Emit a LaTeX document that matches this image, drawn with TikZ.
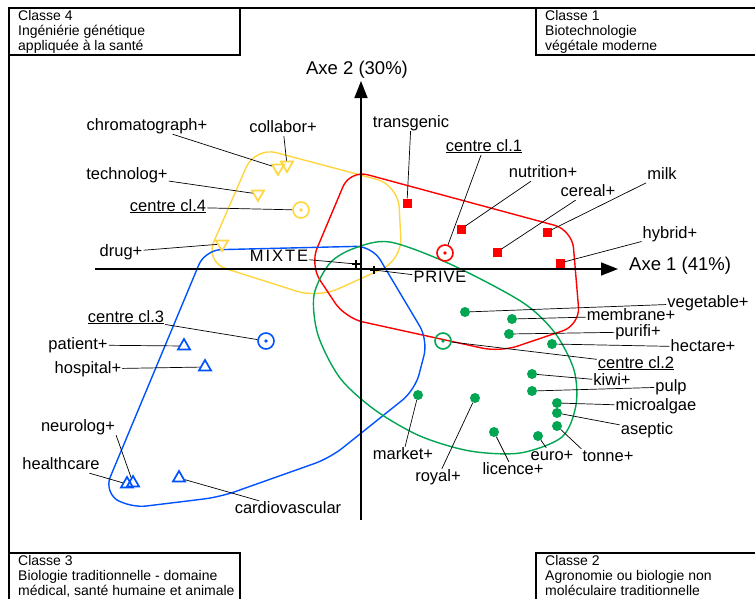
\documentclass[tikz,border=0pt]{standalone}
\usepackage{fontspec}
\setmainfont{Liberation Sans}
\usetikzlibrary{shapes.geometric,arrows.meta}
\definecolor{cyel}{RGB}{255,214,64}
\definecolor{cred}{RGB}{255,0,0}
\definecolor{cgreen}{RGB}{0,166,81}
\definecolor{cblue}{RGB}{0,82,255}
\tikzset{
  lbl/.style={font=\fontsize{16.5}{18}\selectfont, inner sep=1pt, text height=11pt, text depth=3pt},
  axlbl/.style={font=\fontsize{18.5}{20}\selectfont, inner sep=1pt},
  boxtxt/.style={font=\fontsize{14}{15}\selectfont, anchor=north west, align=left, inner sep=2pt},
  boxline/.style={line width=1.6pt},
  axis/.style={line width=1.6pt, -{Triangle[length=17pt,width=13pt]}},
  link/.style={line width=0.7pt},
  hull/.style={line width=1.4pt},
  yeltri/.style={regular polygon, regular polygon sides=3, shape border rotate=180, draw=cyel, line width=1.7pt, inner sep=0pt, minimum size=14pt},
  bluetri/.style={regular polygon, regular polygon sides=3, draw=cblue, line width=1.7pt, inner sep=0pt, minimum size=14pt},
  redsq/.style={rectangle, fill=cred, inner sep=0pt, minimum size=9pt},
  greendot/.style={circle, fill=cgreen, inner sep=0pt, minimum size=10pt},
  centremark/.style={circle, draw=#1, line width=1.6pt, inner sep=0pt, minimum size=16pt,
    path picture={\fill[#1] (path picture bounding box.center) circle (1.8pt);}},
  plusmark/.style={inner sep=0pt, minimum size=8pt,
    path picture={\draw[line width=1.5pt] (path picture bounding box.north) -- (path picture bounding box.south)
      (path picture bounding box.west) -- (path picture bounding box.east);}}
}
\begin{document}
\begin{tikzpicture}[x=1pt,y=-1pt]
        \useasboundingbox (0,0) rectangle (755,598);
        \clip (0,0) rectangle (755,598);

        % Frame
        \draw[boxline] (9,640) -- (9,8) -- (800,8);

        % Class boxes
        \draw[boxline] (9,8) rectangle (240,55);
        \node[boxtxt] (cl4) at (16,8) {Classe 4\\Ingéniérie génétique\\appliquée à la santé};
        \draw[boxline] (536,8) rectangle (800,55);
        \node[boxtxt] (cl1) at (543,8) {Classe 1\\Biotechnologie\\végétale moderne};
        \draw[boxline] (9,553) rectangle (240,640);
        \node[boxtxt] (cl3) at (16,553) {Classe 3\\Biologie traditionnelle - domaine\\médical, santé humaine et animale};
        \draw[boxline] (536,553) rectangle (800,640);
        \node[boxtxt] (cl2) at (543,553) {Classe 2\\Agronomie ou biologie non\\moléculaire traditionnelle};

        % Hulls
        \draw[hull, cyel, rounded corners=22pt] (255,147) -- (398,185) -- (402,260) -- (318,298) -- (205,262) -- cycle;
        \draw[hull, cred, rounded corners=18pt] (350,170) -- (572,230) -- (580,325) -- (500,352) -- (345,318) -- (310,265) -- cycle;
        \draw[hull, cblue, rounded corners=16pt] (205,250) -- (372,246) -- (428,340) -- (415,390) -- (330,458) -- (220,497) -- (130,508) -- (104,492) -- cycle;
        \draw[hull, cgreen] plot[smooth cycle] coordinates {(390,242) (450,264) (522,302) (555,333) (574,370) (576,405) (562,437) (520,453) (470,451) (420,436) (375,410) (340,378) (318,335) (314,295) (330,263) (355,248)};

        % Axes
        \coordinate (xo) at (95,269);
        \coordinate (xe) at (618,269);
        \coordinate (yo) at (361,520);
        \coordinate (ye) at (361,81);
        \draw[axis] (xo) -- (xe);
        \draw[axis] (yo) -- (ye);
        \node[axlbl, anchor=west] (ax1) at (628,266) {Axe 1 (41\%)};
        \node[axlbl] (ax2) at (357,70) {Axe 2 (30\%)};

        % Status points
        \node[plusmark] (pmixte) at (356,264) {};
        \node[plusmark] (pprive) at (374,270) {};
        \node[lbl] (mixte) at (279,257) {\addfontfeature{LetterSpace=12}MIXTE};
        \node[lbl] (prive) at (440,278) {\addfontfeature{LetterSpace=5}PRIVE};
        \draw[link] (mixte) -- (pmixte);
        \draw[link] (prive) -- (pprive);

        % Classe 4 words
        \node[yeltri] (tchrom) at (278,168) {};
        \node[yeltri] (tcoll) at (287,165) {};
        \node[yeltri] (ttech) at (258,194) {};
        \node[yeltri] (tdrug) at (222,244) {};
        \node[centremark=cyel] (c4) at (301,210) {};
        \node[lbl] (chrom) at (147,126) {chromatograph+};
        \node[lbl] (coll) at (283,128) {collabor+};
        \node[lbl] (tech) at (127,175) {technolog+};
        \node[lbl] (lc4) at (168,207) {\underline{centre cl.4}};
        \node[lbl] (drug) at (121,252) {drug+};
        \draw[link] (chrom) -- (tchrom);
        \draw[link] (coll) -- (tcoll);
        \draw[link] (tech) -- (ttech);
        \draw[link] (lc4) -- (c4);
        \draw[link] (drug) -- (tdrug);

        % Classe 1 words
        \node[redsq] (strans) at (407,203) {};
        \node[redsq] (snutr) at (461,229) {};
        \node[redsq] (scer) at (497,252) {};
        \node[redsq] (smilk) at (547,232) {};
        \node[redsq] (shyb) at (560,263) {};
        \node[centremark=cred] (c1) at (445,253) {};
        \node[lbl] (trans) at (411,123) {transgenic};
        \node[lbl] (lc1) at (484,147) {\underline{centre cl.1}};
        \node[lbl] (nutr) at (543,173) {nutrition+};
        \node[lbl] (cer) at (588,192) {cereal+};
        \node[lbl] (milk) at (662,175) {milk};
        \node[lbl] (hyb) at (670,234) {hybrid+};
        \draw[link] (trans) -- (strans);
        \draw[link] (lc1) -- (c1);
        \draw[link] (nutr) -- (snutr);
        \draw[link] (cer) -- (scer);
        \draw[link] (milk) -- (smilk);
        \draw[link] (hyb) -- (shyb);

        % Classe 3 words
        \node[bluetri] (tpat) at (184,346) {};
        \node[bluetri] (thosp) at (205,367) {};
        \node[bluetri] (tneuro) at (133,483) {};
        \node[bluetri] (thealth) at (127,484) {};
        \node[bluetri] (tcardio) at (179,478) {};
        \node[centremark=cblue] (c3) at (266,341) {};
        \node[lbl] (lc3) at (126,318) {\underline{centre cl.3}};
        \node[lbl] (pat) at (78,345) {patient+};
        \node[lbl] (hosp) at (88,369) {hospital+};
        \node[lbl] (neuro) at (78,427) {neurolog+};
        \node[lbl] (health) at (61,465) {healthcare};
        \node[lbl] (cardio) at (288,509) {cardiovascular};
        \draw[link] (lc3) -- (c3);
        \draw[link] (pat) -- (tpat);
        \draw[link] (hosp) -- (thosp);
        \draw[link] (neuro.south east) -- (tneuro);
        \draw[link] (health) -- (thealth);
        \draw[link] (cardio) -- (tcardio);

        % Classe 2 words
        \node[greendot] (dveg) at (465,312) {};
        \node[greendot] (dmem) at (512,319) {};
        \node[greendot] (dpur) at (509,334) {};
        \node[greendot] (dhect) at (552,344) {};
        \node[greendot] (dkiwi) at (532,374) {};
        \node[greendot] (dpulp) at (532,391) {};
        \node[greendot] (dmicro) at (557,403) {};
        \node[greendot] (dasep) at (557,413) {};
        \node[greendot] (dtonne) at (557,426) {};
        \node[greendot] (deuro) at (538,436) {};
        \node[greendot] (dlic) at (494,432) {};
        \node[greendot] (droyal) at (475,398) {};
        \node[greendot] (dmarket) at (418,395) {};
        \node[centremark=cgreen] (c2) at (443,341) {};
        \node[lbl] (veg) at (708,303) {vegetable+};
        \node[lbl] (mem) at (631,316) {membrane+};
        \node[lbl] (pur) at (638,332) {purifi+};
        \node[lbl] (hect) at (703,347) {hectare+};
        \node[lbl] (lc2) at (636,364) {\underline{centre cl.2}};
        \node[lbl] (kiwi) at (612,381) {kiwi+};
        \node[lbl] (pulp) at (671,387) {pulp};
        \node[lbl] (micro) at (656,406) {microalgae};
        \node[lbl] (asep) at (647,430) {aseptic};
        \node[lbl] (tonne) at (608,457) {tonne+};
        \node[lbl] (euro) at (552,456) {euro+};
        \node[lbl] (lic) at (513,470) {licence+};
        \node[lbl] (royal) at (438,477) {royal+};
        \node[lbl] (market) at (403,455) {market+};
        \draw[link] (veg) -- (dveg);
        \draw[link] (mem) -- (dmem);
        \draw[link] (pur) -- (dpur);
        \draw[link] (hect) -- (dhect);
        \draw[link] (lc2) -- (c2);
        \draw[link] (kiwi) -- (dkiwi);
        \draw[link] (pulp) -- (dpulp);
        \draw[link] (micro) -- (dmicro);
        \draw[link] (asep) -- (dasep);
        \draw[link] (tonne.north west) -- (dtonne);
        \draw[link] (euro) -- (deuro);
        \draw[link] (lic) -- (dlic);
        \draw[link] (royal) -- (droyal);
        \draw[link] (market) -- (dmarket);
\end{tikzpicture}
\end{document}
